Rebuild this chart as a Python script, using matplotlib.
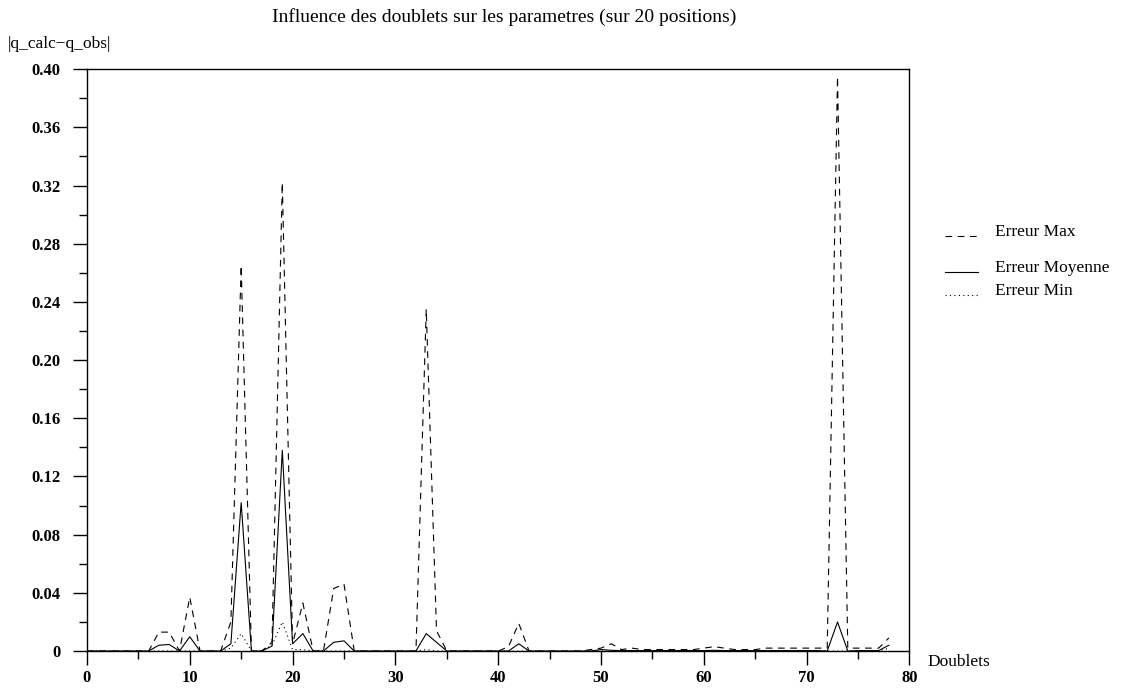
# Influence des doublets : erreur max / moyenne / min selon le doublet retire
import matplotlib
matplotlib.use("Agg")
import matplotlib.pyplot as plt
from matplotlib.lines import Line2D
from matplotlib.ticker import MultipleLocator, FuncFormatter

doublets = list(range(0, 79))

err_max = [0, 0, 0, 0, 0, 0, 0, 0.013, 0.013, 0, 0.037, 0, 0, 0, 0.020, 0.265, 0, 0, 0.006, 0.322,
           0.005, 0.033, 0, 0, 0.043, 0.046, 0, 0, 0, 0, 0, 0, 0, 0.235, 0.014, 0, 0, 0, 0, 0,
           0, 0.003, 0.019, 0, 0, 0, 0, 0, 0, 0.001, 0.002, 0.005, 0.001, 0.002, 0.001, 0.001, 0.001, 0.001, 0.001, 0.001,
           0.002, 0.003, 0.002, 0.001, 0.001, 0.001, 0.002, 0.002, 0.002, 0.002, 0.002, 0.002, 0.002, 0.395, 0.002, 0.002, 0.002, 0.002, 0.009]

err_moy = [0, 0, 0, 0, 0, 0, 0, 0.004, 0.0045, 0, 0.0098, 0, 0, 0, 0.005, 0.102, 0, 0, 0.0034, 0.138,
           0.005, 0.012, 0, 0, 0.006, 0.007, 0, 0, 0, 0, 0, 0, 0, 0.012, 0.006, 0, 0, 0, 0, 0,
           0, 0, 0.005, 0, 0, 0, 0, 0, 0, 0, 0.001, 0.0005, 0.0003, 0.0003, 0.0003, 0.0003, 0.0003, 0.0003, 0.0003, 0.0003,
           0.0003, 0.0005, 0.0003, 0.0003, 0.0003, 0.0003, 0.0003, 0.0003, 0.0003, 0.0003, 0.0003, 0.0003, 0, 0.020, 0, 0.0003, 0.0003, 0.0003, 0.004]

err_min = [0, 0, 0, 0, 0, 0, 0, 0, 0, 0, 0, 0, 0, 0, 0.002, 0.012, 0, 0, 0.004, 0.020,
           0.001, 0.001, 0, 0, 0, 0, 0, 0, 0, 0, 0, 0, 0, 0.001, 0, 0, 0, 0, 0, 0,
           0, 0, 0, 0, 0, 0, 0, 0, 0, 0, 0, 0, 0, 0, 0, 0, 0, 0, 0, 0,
           0, 0, 0, 0, 0, 0, 0, 0, 0, 0, 0, 0, 0, 0, 0, 0, 0, 0, 0.002]

plt.rcParams['font.family'] = ['Liberation Serif', 'DejaVu Serif']

fig = plt.figure(figsize=(11.44, 6.92), dpi=100)
ax = fig.add_axes([0.076, 0.0592, 0.719, 0.8408])

lw = 0.8
ax.plot(doublets, err_max, color="black", lw=lw, ls=(0, (6, 5)))
ax.plot(doublets, err_moy, color="black", lw=lw, ls="-")
ax.plot(doublets, err_min, color="black", lw=lw, ls=(0, (1, 3)))

ax.set_xlim(0, 80)
ax.set_ylim(0, 0.40)
ax.xaxis.set_major_locator(MultipleLocator(10))
ax.xaxis.set_minor_locator(MultipleLocator(5))
ax.yaxis.set_major_locator(MultipleLocator(0.04))
ax.yaxis.set_minor_locator(MultipleLocator(0.02))
ax.yaxis.set_major_formatter(FuncFormatter(lambda v, p: "0" if abs(v) < 1e-9 else "%.2f" % v))
ax.tick_params(which="major", direction="out", length=10, width=1)
ax.tick_params(which="minor", direction="out", length=6, width=1)
ax.tick_params(axis="x", pad=4, labelsize=12)
ax.tick_params(axis="y", pad=9, labelsize=12)
for lab in ax.get_xticklabels() + ax.get_yticklabels():
    lab.set_fontweight("bold")
for s in ax.spines.values():
    s.set_linewidth(1)

fig.text(0.441, 0.976, "Influence des doublets sur les parametres (sur 20 positions)",
         ha="center", va="center", fontsize=14)
fig.text(0.007, 0.936, "|q_calc\u2212q_obs|", ha="left", va="center", fontsize=12.5)
fig.text(0.811, 0.044, "Doublets", ha="left", va="center", fontsize=12.5)

# legende
entries = [("Erreur Max", (0, (6, 5)), 0.665),
           ("Erreur Moyenne", "-", 0.613),
           ("Erreur Min", (0, (1, 3)), 0.580)]
for label, style, yy in entries:
    fig.add_artist(Line2D([0.826, 0.855], [yy - 0.006, yy - 0.006], color="black", lw=lw, ls=style))
    fig.text(0.870, yy, label, ha="left", va="center", fontsize=12.5)

fig.savefig("out.png", dpi=100)
